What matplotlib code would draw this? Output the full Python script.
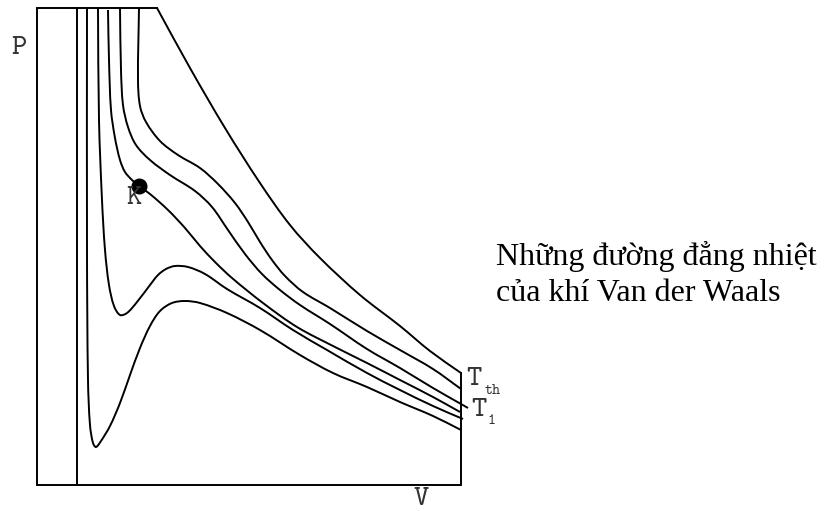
import numpy as np
import matplotlib
matplotlib.use("Agg")
import matplotlib.pyplot as plt
from matplotlib.path import Path
from matplotlib.patches import PathPatch

iso_a = [(50, 477), (50, 235), (51, 105), (53, 60), (56, 42), (59, 38), (64, 44), (73, 59),
         (83, 82), (93, 110), (103, 137), (113, 159), (123, 174), (135, 182), (148, 184),
         (163, 182), (190, 172), (223, 155), (263, 130), (296, 112), (330, 98), (363, 83),
         (396, 69), (424, 55)]
iso_b = [(61, 477), (62, 365), (65, 285), (68, 235), (72, 200), (77, 179), (83, 170),
         (90, 172), (100, 183), (113, 200), (121, 210), (129, 216), (138, 219), (151, 218),
         (168, 211), (190, 196), (223, 177), (256, 155), (290, 135), (330, 112), (363, 95),
         (396, 79), (426, 66)]
iso_crit = [(71, 475), (72, 425), (74, 375), (78, 347), (83, 325), (88, 313), (95, 305),
            (102, 299), (113, 291), (131, 275), (148, 257), (163, 239), (178, 223),
            (195, 207), (226, 182), (260, 158), (298, 138), (330, 122), (363, 105),
            (396, 88), (423, 73)]
iso_t1 = [(83, 477), (84, 415), (86, 380), (91, 358), (99, 340), (113, 325), (133, 310),
          (158, 294), (175, 278), (191, 255), (208, 231), (225, 211), (243, 195),
          (263, 180), (293, 161), (330, 136), (363, 117), (396, 97), (424, 81), (431, 77)]
iso_th = [(102, 477), (101, 405), (103, 379), (109, 363), (123, 344), (141, 330),
          (163, 317), (181, 301), (198, 282), (211, 263), (223, 243), (235, 225),
          (248, 209), (266, 193), (293, 177), (330, 154), (363, 135), (396, 116), (424, 96)]
iso_top = [(120, 477), (153, 417), (188, 357), (223, 302), (253, 260), (283, 227),
           (323, 190), (363, 159), (393, 134), (424, 112)]

K = (102, 299)

# frame of the diagram
frame = [(120, 477), (0, 477), (0, 0), (424, 0), (424, 112)]
b_line = [(40, 0), (40, 477)]


def smooth_path(pts):
    # cubic Bezier through the points, tangents scaled by chord length
    p = np.asarray(pts, dtype=float)
    n = len(p)
    d = np.hypot(*np.diff(p, axis=0).T)
    tan = np.zeros_like(p)
    tan[0] = (p[1] - p[0]) / d[0]
    tan[-1] = (p[-1] - p[-2]) / d[-1]
    for i in range(1, n - 1):
        tan[i] = (p[i + 1] - p[i - 1]) / (d[i - 1] + d[i])
    verts = [p[0]]
    codes = [Path.MOVETO]
    for i in range(n - 1):
        verts += [p[i] + tan[i] * d[i] / 3, p[i + 1] - tan[i + 1] * d[i] / 3, p[i + 1]]
        codes += [Path.CURVE4] * 3
    return Path(verts, codes)


fig = plt.figure(figsize=(8.32, 5.11), dpi=100)
ax = fig.add_axes([0, 0, 1, 1])
ax.set_xlim(-37, 795)
ax.set_ylim(-26, 485)
ax.axis("off")

lw = 1.4
fx, fy = zip(*frame)
ax.plot(fx, fy, color="black", lw=lw, solid_joinstyle="miter")
bx, by = zip(*b_line)
ax.plot(bx, by, color="black", lw=lw)

for iso in [iso_a, iso_b, iso_crit, iso_t1, iso_th, iso_top]:
    ax.add_patch(PathPatch(smooth_path(iso), fill=False, ec="black", lw=lw))

ax.plot(*K, "o", color="black", ms=10.5)

mono = dict(family="cmtt10", color="#333333")
ax.text(-18, 437, "P", fontsize=21, ha="center", va="center", **mono)
ax.text(384, -14, "V", fontsize=21, ha="center", va="center", **mono)
ax.text(97, 287, "K", fontsize=21, ha="center", va="center", **mono)
ax.text(437, 106, "T", fontsize=21, ha="center", va="center", **mono)
ax.text(456, 94, "th", fontsize=11, ha="center", va="center", **mono)
ax.text(442, 75, "T", fontsize=21, ha="center", va="center", **mono)
ax.text(454, 64, "1", fontsize=11, ha="center", va="center", **mono)

serif = dict(family="Liberation Serif", color="black", fontsize=23)
ax.text(459, 220, "Những đường đẳng nhiệt", ha="left", va="baseline", **serif)
ax.text(459, 184, "của khí Van der Waals", ha="left", va="baseline", **serif)

fig.savefig("out.png", dpi=100)
